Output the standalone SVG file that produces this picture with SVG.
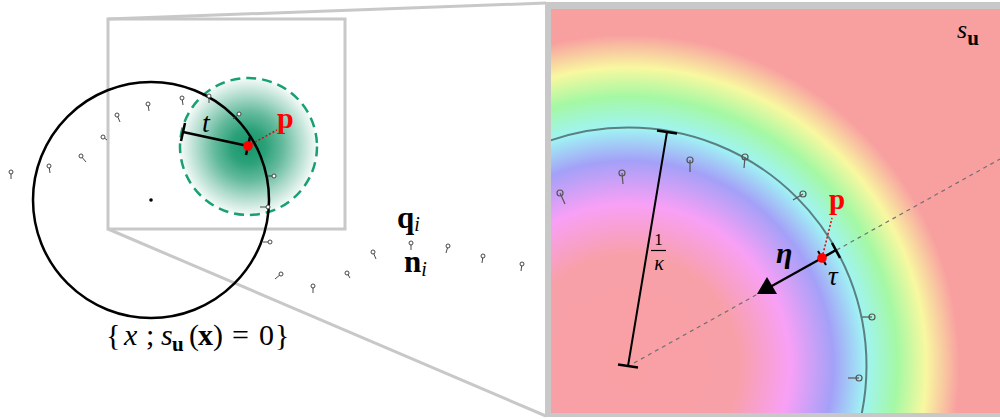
<svg xmlns="http://www.w3.org/2000/svg" width="1000" height="419" viewBox="0 0 1000 419">
<defs>
<radialGradient id="blob" cx="248.5" cy="146.5" r="68.5" gradientUnits="userSpaceOnUse">
<stop offset="0" stop-color="#14976a" stop-opacity="1"/>
<stop offset="0.25" stop-color="#14976a" stop-opacity="0.9"/>
<stop offset="0.5" stop-color="#14976a" stop-opacity="0.66"/>
<stop offset="0.75" stop-color="#14976a" stop-opacity="0.34"/>
<stop offset="1" stop-color="#14976a" stop-opacity="0.04"/>
</radialGradient>
<radialGradient id="rainbow" cx="628" cy="366" r="345" gradientUnits="userSpaceOnUse">
<stop offset="0" stop-color="#f8a0a4"/>
<stop offset="0.32" stop-color="#f8a0a8"/>
<stop offset="0.47" stop-color="#f8a0f6"/>
<stop offset="0.595" stop-color="#a4a0f8"/>
<stop offset="0.69" stop-color="#a0f4f4"/>
<stop offset="0.78" stop-color="#a4f8a4"/>
<stop offset="0.865" stop-color="#f8f8a0"/>
<stop offset="0.96" stop-color="#f8a0a0"/>
<stop offset="1" stop-color="#f8a0a0"/>
</radialGradient>
<clipPath id="panelclip"><rect x="551" y="9" width="449" height="404"/></clipPath>
</defs>
<style>
.serif{font-family:"Liberation Serif","DejaVu Serif",serif;}
.pin line{stroke:#333;stroke-width:0.9;}
.pin circle{fill:#fff;stroke:#333;stroke-width:0.9;}
.rpin line{stroke:#555;stroke-width:1.2;}
.rpin circle{fill:none;stroke:#555;stroke-width:1.2;}
.zoomline{stroke:#c8c8c8;stroke-width:3;fill:none;}
.bk{stroke:#000;fill:none;}
</style>
<rect width="1000" height="419" fill="#fff"/>

<g id="connectors">
<line class="zoomline" x1="108" y1="19" x2="546" y2="3"/>
<line class="zoomline" x1="108" y1="229" x2="546" y2="416"/>
</g>

<g id="zoom-rect">
<rect x="108" y="19" width="237" height="210" fill="none" stroke="#c8c8c8" stroke-width="3"/>
</g>

<g id="kernel">
<circle cx="248.5" cy="146.5" r="68.5" fill="url(#blob)"/>
<circle cx="248.5" cy="146.5" r="68.5" fill="none" stroke="#17a072" stroke-width="2.5" stroke-dasharray="10 6"/>
</g>

<g id="surface-left">
<circle cx="151" cy="200" r="118" class="bk" stroke-width="2.5"/>
<circle cx="151" cy="200" r="1.8" fill="#000"/>
</g>

<g id="points-left" class="pin">
<line x1="11" y1="172" x2="11" y2="179"/><circle cx="11" cy="172" r="2"/>
<line x1="49" y1="166" x2="50" y2="173"/><circle cx="49" cy="166" r="2"/>
<line x1="81" y1="156" x2="86" y2="162"/><circle cx="81" cy="156" r="2"/>
<line x1="103" y1="137" x2="107" y2="140"/><circle cx="103" cy="137" r="2"/>
<line x1="117" y1="115" x2="120" y2="122"/><circle cx="117" cy="115" r="2"/>
<line x1="148" y1="104" x2="149" y2="111"/><circle cx="148" cy="104" r="2"/>
<line x1="182" y1="98" x2="183" y2="105"/><circle cx="182" cy="98" r="2"/>
<line x1="209" y1="96" x2="209" y2="103"/><circle cx="209" cy="96" r="2"/>
<line x1="239" y1="114" x2="233" y2="119"/><circle cx="239" cy="114" r="2"/>
<line x1="274" y1="176" x2="267" y2="176"/><circle cx="274" cy="176" r="2"/>
<line x1="268" y1="207" x2="260" y2="207"/><circle cx="268" cy="207" r="2"/>
<line x1="270" y1="242" x2="263" y2="242"/><circle cx="270" cy="242" r="2"/>
<line x1="281" y1="274" x2="275" y2="279"/><circle cx="281" cy="274" r="2"/>
<line x1="313" y1="286" x2="313" y2="293"/><circle cx="313" cy="286" r="2"/>
<line x1="347" y1="273" x2="350" y2="278"/><circle cx="347" cy="273" r="2"/>
<line x1="373" y1="252" x2="376" y2="259"/><circle cx="373" cy="252" r="2"/>
<line x1="411" y1="243" x2="411" y2="250"/><circle cx="411" cy="243" r="2"/>
<line x1="448" y1="246" x2="446" y2="253"/><circle cx="448" cy="246" r="2"/>
<line x1="483" y1="256" x2="482" y2="263"/><circle cx="483" cy="256" r="2"/>
<line x1="522" y1="264" x2="521" y2="271"/><circle cx="522" cy="264" r="2"/>
</g>

<g id="radius-t">
<line x1="248" y1="146" x2="183" y2="132" class="bk" stroke-width="2.5"/>
<line x1="185" y1="123" x2="181" y2="141" class="bk" stroke-width="2.5"/>
<line x1="250" y1="137" x2="246" y2="155" class="bk" stroke-width="2.5"/>
<line x1="248" y1="146" x2="277" y2="130" stroke="#e00" stroke-width="1.5" stroke-dasharray="2 2"/>
<circle cx="248" cy="146" r="4.8" fill="#f00"/>
<text x="202" y="132" class="serif" font-size="28" font-style="italic">t</text>
<text x="277" y="128" class="serif" font-size="30" font-weight="bold" fill="#f00">p</text>
</g>

<g id="labels-left">
<text x="397" y="228" class="serif" font-size="31" font-weight="bold">q<tspan font-weight="normal" font-style="italic" font-size="20" dy="3">i</tspan></text>
<text x="404" y="272" class="serif" font-size="31" font-weight="bold">n<tspan font-weight="normal" font-style="italic" font-size="20" dy="4">i</tspan></text>
<text y="345" class="serif" font-size="30"><tspan x="106">{</tspan><tspan x="124" font-style="italic">x</tspan><tspan x="146">;</tspan><tspan x="161" font-style="italic">s</tspan><tspan x="172" dy="6" font-size="21" font-weight="bold">u</tspan><tspan x="189" dy="-6">(</tspan><tspan x="198" font-weight="bold">x</tspan><tspan x="213">)</tspan><tspan x="232">=</tspan><tspan x="259">0</tspan><tspan x="275">}</tspan></text>
</g>

<g id="zoom-panel">
<rect x="545" y="2" width="460" height="415" fill="#c8c8c8"/>
<rect x="551" y="9" width="449" height="404" fill="url(#rainbow)"/>
<g clip-path="url(#panelclip)">
<line x1="634" y1="363" x2="1000" y2="159" stroke="#707070" stroke-width="1.2" stroke-dasharray="4 4"/>
<circle cx="628" cy="366" r="238.5" fill="none" stroke="#4f6b6b" stroke-width="2" stroke-opacity="0.85"/>
<g class="rpin">
<line x1="560" y1="193" x2="565" y2="204"/><circle cx="560" cy="193" r="3"/>
<line x1="622" y1="173" x2="623" y2="184"/><circle cx="622" cy="173" r="3"/>
<line x1="690" y1="160" x2="690" y2="172"/><circle cx="690" cy="160" r="3"/>
<line x1="745" y1="157" x2="744" y2="168"/><circle cx="745" cy="157" r="3"/>
<line x1="803" y1="194" x2="793" y2="200"/><circle cx="803" cy="194" r="3"/>
<line x1="872" y1="317" x2="862" y2="317"/><circle cx="872" cy="317" r="3"/>
<line x1="859" y1="378" x2="848" y2="378"/><circle cx="859" cy="378" r="3"/>
</g>
</g>
</g>

<g id="curvature-radius">
<line x1="667" y1="132" x2="628" y2="366" class="bk" stroke-width="2"/>
<line x1="657" y1="130.4" x2="677" y2="133.6" class="bk" stroke-width="2.5"/>
<line x1="618" y1="364.4" x2="638" y2="367.6" class="bk" stroke-width="2.5"/>
<text x="658.5" y="245" class="serif" font-size="17" text-anchor="middle">1</text>
<line x1="651" y1="250.5" x2="666" y2="250.5" stroke="#000" stroke-width="1.2"/>
<text x="659" y="270" class="serif" font-size="20" font-style="italic" text-anchor="middle">κ</text>
</g>

<g id="normal-eta">
<line x1="822" y1="258" x2="770" y2="287" class="bk" stroke-width="2.2"/>
<polygon points="757,294 777,294 767,277" fill="#000"/>
<line x1="818" y1="251" x2="826" y2="265" class="bk" stroke-width="2"/>
<line x1="822" y1="258" x2="836" y2="250" class="bk" stroke-width="2.5"/>
<line x1="832" y1="243" x2="840" y2="258" class="bk" stroke-width="2.5"/>
<line x1="822" y1="258" x2="832" y2="218" stroke="#e00" stroke-width="1.5" stroke-dasharray="2 2"/>
<circle cx="822" cy="258" r="4.8" fill="#f00"/>
<text x="776" y="263" class="serif" font-size="30" font-style="italic" font-weight="bold">η</text>
<text x="828" y="285" class="serif" font-size="27" font-style="italic">τ</text>
<text x="829" y="209" class="serif" font-size="29" font-weight="bold" fill="#f00">p</text>
<text x="957" y="38" class="serif" font-size="26" font-style="italic">s<tspan font-style="normal" font-weight="bold" font-size="21" dy="7">u</tspan></text>
</g>
</svg>
